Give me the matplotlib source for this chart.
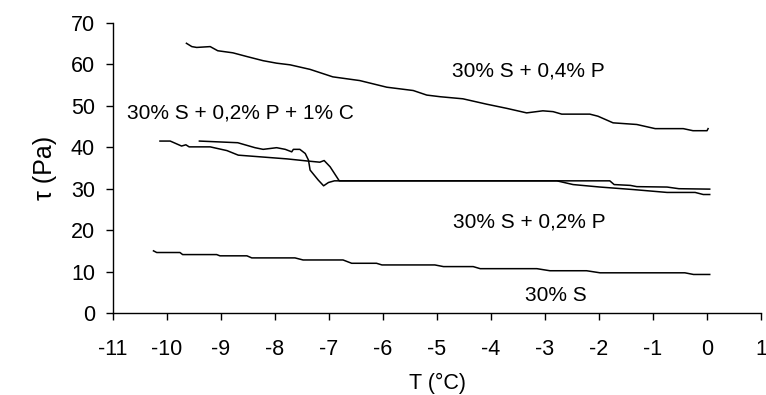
"""Yield stress vs temperature for the four suspensions."""

import matplotlib
matplotlib.use("Agg")
import matplotlib.pyplot as plt

plt.rcParams["font.family"] = ["Liberation Sans", "DejaVu Sans"]
plt.rcParams["axes.unicode_minus"] = False

# 30% S + 0,4% P
t_p04 = [-9.64, -9.54, -9.45, -9.20, -9.06, -8.78, -8.52, -8.22, -7.97, -7.72,
         -7.35, -6.93, -6.43, -5.93, -5.44, -5.19, -4.94, -4.52, -4.08, -3.71,
         -3.34, -3.04, -2.85, -2.69, -2.17, -2.02, -1.74, -1.30, -0.96, -0.44,
         -0.26, 0.0, 0.02]
tau_p04 = [65.1, 64.3, 64.1, 64.3, 63.3, 62.8, 61.9, 60.9, 60.3, 59.9,
           58.8, 57.0, 56.1, 54.5, 53.7, 52.6, 52.2, 51.7, 50.4, 49.4,
           48.3, 48.8, 48.6, 48.0, 48.0, 47.5, 45.9, 45.5, 44.5, 44.5,
           44.0, 44.0, 44.5]

# 30% S + 0,2% P + 1% C
t_p02c = [-10.13, -9.94, -9.73, -9.65, -9.59, -9.20, -8.89, -8.68, -7.78, -7.41,
          -7.17, -7.09, -6.98, -6.81, -5.0, -2.78, -1.80, -1.72, -1.42, -1.30,
          -0.74, -0.52, 0.05]
tau_p02c = [41.5, 41.5, 40.3, 40.6, 40.1, 40.1, 39.2, 38.1, 37.2, 36.7,
            36.4, 36.8, 35.3, 31.9, 31.9, 31.9, 31.9, 31.0, 30.8, 30.5,
            30.4, 30.0, 29.9]

# 30% S + 0,2% P
t_p02 = [-9.40, -8.69, -8.37, -8.22, -7.97, -7.81, -7.69, -7.66, -7.54, -7.44,
         -7.38, -7.35, -7.20, -7.10, -7.01, -6.90, -5.0, -2.78, -2.48, -1.98,
         -1.37, -0.74, -0.22, -0.07, 0.05]
tau_p02 = [41.5, 41.1, 39.9, 39.5, 39.9, 39.5, 38.9, 39.5, 39.5, 38.5,
           36.9, 34.5, 32.1, 30.7, 31.5, 31.9, 31.9, 31.9, 31.0, 30.4,
           29.8, 29.1, 29.1, 28.6, 28.6]

# 30% S
t_s = [-10.25, -10.19, -9.76, -9.71, -9.08, -9.02, -8.52, -8.43, -7.63, -7.48,
       -6.74, -6.58, -6.12, -6.02, -5.04, -4.88, -4.33, -4.20, -3.15, -2.91,
       -2.23, -1.98, -0.41, -0.25, 0.05]
tau_s = [15.0, 14.6, 14.6, 14.1, 14.1, 13.8, 13.8, 13.3, 13.3, 12.8,
         12.8, 12.0, 12.0, 11.6, 11.6, 11.2, 11.2, 10.7, 10.7, 10.2,
         10.2, 9.7, 9.7, 9.3, 9.3]

labels = ["30% S + 0,4% P", "30% S + 0,2% P + 1% C", "30% S + 0,2% P", "30% S"]
label_pos = [(-4.72, 58.4), (-10.74, 48.3), (-4.70, 22.0), (-3.37, 4.3)]

fig = plt.figure(figsize=(7.66, 3.95), dpi=100)
ax = fig.add_axes([0.1475, 0.2076, 0.846, 0.7342])

for t, tau in [(t_p04, tau_p04), (t_p02c, tau_p02c), (t_p02, tau_p02), (t_s, tau_s)]:
    ax.plot(t, tau, color="black", linewidth=1.1)

for text, (x, y) in zip(labels, label_pos):
    ax.text(x, y, text, fontsize=15, ha="left", va="center")

ax.set_xlim(-11, 1)
ax.set_ylim(0, 70)
ax.set_xticks(range(-11, 2))
ax.set_yticks(range(0, 71, 10))
ax.spines["top"].set_visible(False)
ax.spines["right"].set_visible(False)
for s in ("left", "bottom"):
    ax.spines[s].set_linewidth(1.0)
ax.tick_params(direction="out", length=5, width=1, labelsize=15.5)
ax.tick_params(axis="x", pad=14)
ax.tick_params(axis="y", pad=8)
ax.set_xlabel("T (°C)", fontsize=15.5, labelpad=9)
ax.set_ylabel("τ (Pa)", fontsize=18, labelpad=10)

fig.savefig("out.png", dpi=100)
